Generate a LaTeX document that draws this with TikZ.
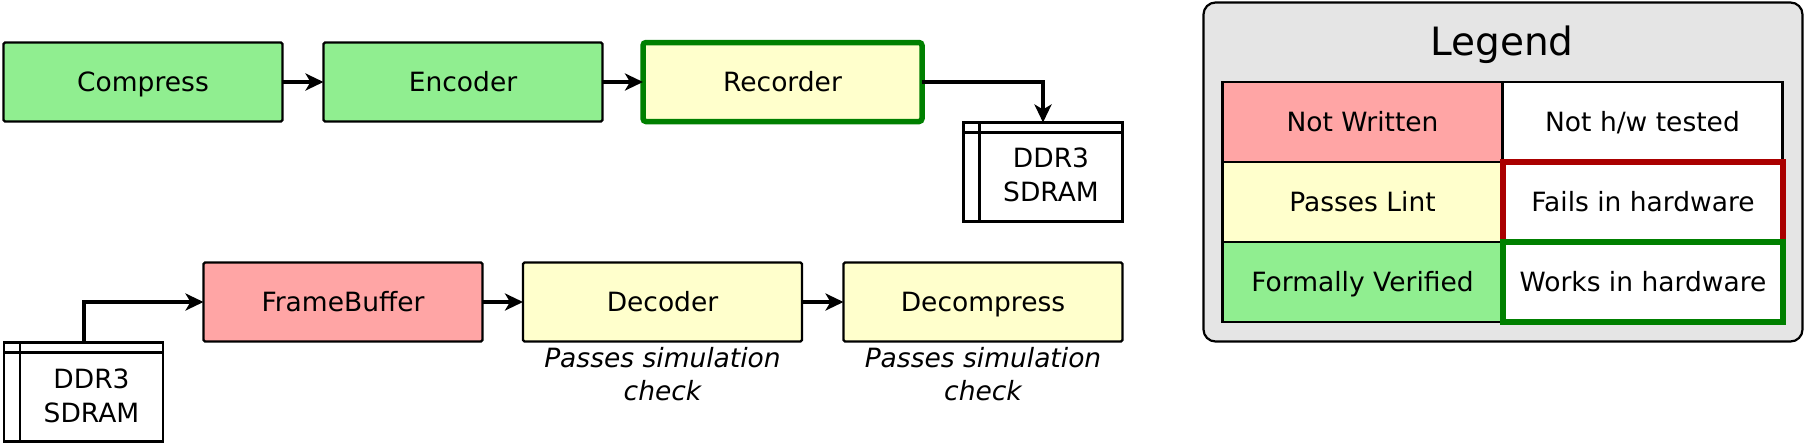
\documentclass[tikz,border=0pt]{standalone}
\usepackage{fontspec}
\setmainfont{DejaVu Sans}
\usetikzlibrary{arrows.meta,calc}
\definecolor{vgreen}{HTML}{90EE90}
\definecolor{lyellow}{HTML}{FFFFCC}
\definecolor{lpink}{HTML}{FFA5A5}
\definecolor{leggray}{HTML}{E5E5E5}
\definecolor{hwred}{HTML}{AA0000}
\definecolor{hwgreen}{HTML}{008000}
\tikzset{
  txt/.style={font=\fontsize{26.5}{33}\selectfont, text height=20pt, text depth=1pt},
  blk/.style={draw=black, line width=2.2pt, rounded corners=1.5pt, minimum width=279pt, minimum height=79pt, inner sep=0pt, outer sep=0pt, txt},
  green/.style={fill=vgreen},
  yellow/.style={fill=lyellow},
  pink/.style={fill=lpink},
  works/.style={draw=hwgreen, line width=5.5pt, rounded corners=3pt},
  conn/.style={line width=4pt, -{Stealth[length=18pt,width=17pt,inset=5pt]}},
  store/.style={draw=black, line width=2.2pt, fill=white, minimum width=159pt, minimum height=99pt, inner sep=0pt, outer sep=0pt},
  storetext/.style={align=center, inner sep=0pt, font=\fontsize{26.5}{33.5}\selectfont},
  note/.style={align=center, inner sep=0pt, font=\fontsize{26.5}{33}\selectfont\itshape},
  cell/.style={draw=black, line width=2.2pt, minimum width=280pt, minimum height=80pt, inner sep=0pt, outer sep=0pt, txt},
  hwbox/.style={line width=6pt, minimum width=280pt, minimum height=80pt, inner sep=0pt, outer sep=0pt, txt, fill=white}
}
\begin{document}
\begin{tikzpicture}[x=1pt,y=-1pt]
\useasboundingbox (0,0) rectangle (1804,445);
% top row
\node[blk,green] (comp) at (143,82) {Compress};
\node[blk,green] (enc) at (463,82) {Encoder};
\node[blk,yellow,works] (rec) at (782.5,82) {Recorder};
\node[store] (ddrA) at (1043,172) {};
\draw[line width=2.2pt] ([xshift=16pt]ddrA.north west) -- ([xshift=16pt]ddrA.south west);
\draw[line width=2.2pt] ([yshift=-10pt]ddrA.north west) -- ([yshift=-10pt]ddrA.north east);
\node[storetext,anchor=base] (ddrAt) at (1051,201) {DDR3\\SDRAM};
\draw[conn] (comp.east) -- (enc.west);
\draw[conn] (enc.east) -- (rec.west);
\draw[conn] (rec.east) -| (ddrA.north);
% bottom row
\node[blk,pink] (fb) at (343,302) {FrameBuffer};
\node[blk,yellow] (dec) at (662.5,302) {Decoder};
\node[blk,yellow] (decomp) at (983,302) {Decompress};
\node[note,anchor=base] (ndec) at (662.5,400) {Passes simulation\\check};
\node[note,anchor=base] (ndecomp) at (983,400) {Passes simulation\\check};
\node[store] (ddrB) at (83.5,392) {};
\draw[line width=2.2pt] ([xshift=16pt]ddrB.north west) -- ([xshift=16pt]ddrB.south west);
\draw[line width=2.2pt] ([yshift=-10pt]ddrB.north west) -- ([yshift=-10pt]ddrB.north east);
\node[storetext,anchor=base] (ddrBt) at (91.5,422) {DDR3\\SDRAM};
\draw[conn] (ddrB.north) |- (fb.west);
\draw[conn] (fb.east) -- (dec.west);
\draw[conn] (dec.east) -- (decomp.west);
% legend
\node[draw=black, line width=2.2pt, fill=leggray, rounded corners=12pt, minimum width=599pt, minimum height=339pt, inner sep=0pt, outer sep=0pt] (leg) at (1503,172) {};
\node[font=\fontsize{39}{47}\selectfont, inner sep=0pt, anchor=base] (legT) at (1502,55) {Legend};
\node[cell,fill=lpink] (c11) at (1362.5,122) {Not Written};
\node[cell,fill=white] (c12) at (1642.5,122) {Not h/w tested};
\node[cell,fill=lyellow] (c21) at (1362.5,202) {Passes Lint};
\node[cell,fill=vgreen] (c31) at (1362.5,282) {Formally Verified};
\node[hwbox,draw=hwred] (c22) at (1643,202) {Fails in hardware};
\node[hwbox,draw=hwgreen] (c32) at (1643,282) {Works in hardware};
\end{tikzpicture}
\end{document}
